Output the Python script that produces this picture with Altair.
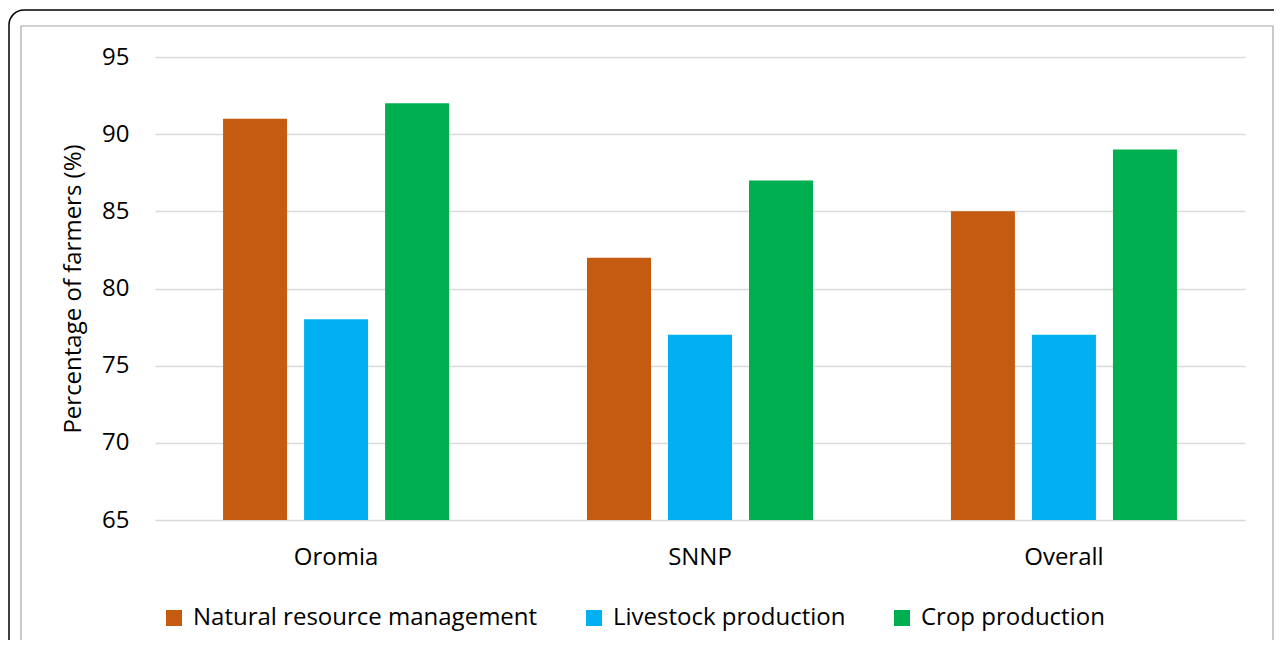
import altair as alt
import pandas as pd

regions = ["Oromia", "SNNP", "Overall"]
series = ["Natural resource management", "Livestock production", "Crop production"]
nrm = [91, 82, 85]
livestock = [78, 77, 77]
crop = [92, 87, 89]
colors = ["#C55A11", "#00B0F0", "#00B050"]

rows = []
for i, r in enumerate(regions):
    for s, vals in zip(series, [nrm, livestock, crop]):
        rows.append({"region": r, "series": s, "value": vals[i], "base": 65})
df = pd.DataFrame(rows)

FONT = "Open Sans"
W, H = 1090, 463

bars = alt.Chart(df).mark_bar().encode(
    x=alt.X("region:N", sort=regions, title=None,
            scale=alt.Scale(paddingInner=0.379, paddingOuter=0.187),
            axis=alt.Axis(labelAngle=0, domain=False, ticks=False, grid=False, labelPadding=25,
                          labelFontSize=24, labelFont=FONT, labelColor="#000")),
    xOffset=alt.XOffset("series:N", sort=series,
                        scale=alt.Scale(paddingInner=0.21, paddingOuter=0)),
    y=alt.Y("value:Q", title="Percentage of farmers (%)",
            scale=alt.Scale(domain=[65, 95], nice=False, zero=False),
            axis=alt.Axis(values=[65, 70, 75, 80, 85, 90, 95], domain=False, ticks=False,
                          labelPadding=26, labelFontSize=24, labelFont=FONT, labelColor="#000",
                          titleFontSize=24, titleFont=FONT, titleFontWeight="normal",
                          titleColor="#000", titlePadding=16,
                          gridColor="#d9d9d9", gridWidth=1.5)),
    y2="base:Q",
    color=alt.Color("series:N", sort=series,
                    scale=alt.Scale(domain=series, range=colors),
                    legend=alt.Legend(title=None, orient="none", direction="horizontal",
                                      legendX=7, legendY=H + 86,
                                      symbolType="square", symbolSize=256,
                                      symbolStrokeWidth=0, labelFontSize=24, labelFont=FONT,
                                      labelColor="#000", columnPadding=44, labelOffset=7,
                                      labelLimit=0)),
)

frame_outer = alt.Chart(pd.DataFrame({"a": [0]})).mark_rect(
    fill=None, stroke="#000", strokeWidth=1.5, cornerRadius=15
).encode(x=alt.value(-146), x2=alt.value(1200), y=alt.value(-47), y2=alt.value(700))

frame_inner = alt.Chart(pd.DataFrame({"a": [0]})).mark_rect(
    fill=None, stroke="#a6a6a6", strokeWidth=1.2
).encode(x=alt.value(-134), x2=alt.value(1118), y=alt.value(-31), y2=alt.value(700))

chart = alt.layer(frame_outer, frame_inner, bars).properties(
    width=W, height=H,
    background="white",
    autosize=alt.AutoSizeParams(type="none"),
    padding={"left": 147, "top": 49, "right": 29, "bottom": 120},
).configure_view(strokeWidth=0, stroke="transparent")

chart.save("out.html", embed_options={"renderer": "svg", "actions": False})
